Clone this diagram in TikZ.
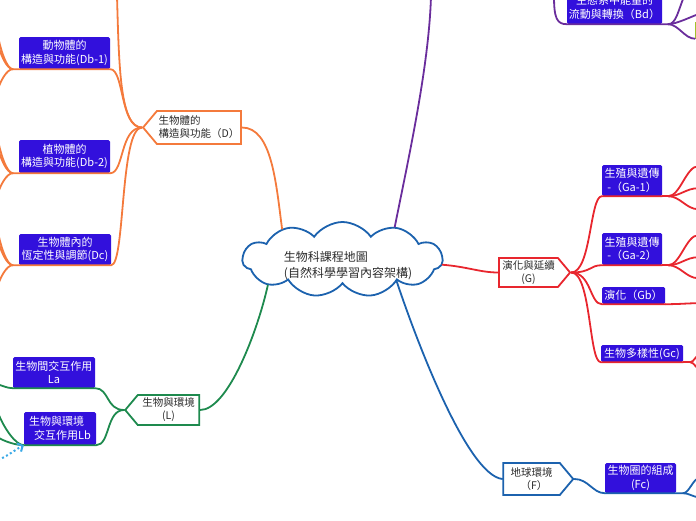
\documentclass[tikz,border=0pt]{standalone}
\usepackage{fontspec}
\setmainfont{Noto Sans CJK TC}
\usetikzlibrary{shapes.symbols,arrows.meta}
\definecolor{bioOrange}{HTML}{F47A3C}
\definecolor{bioGreen}{HTML}{1E8A4E}
\definecolor{bioPurple}{HTML}{6A2D9C}
\definecolor{bioRed}{HTML}{E8262E}
\definecolor{bioBlue}{HTML}{1C62AE}
\definecolor{bioBox}{HTML}{3210DC}
\definecolor{bioSky}{HTML}{3AA9E6}
\definecolor{bioLime}{HTML}{A3C22A}
\definecolor{bioInk}{HTML}{2B2B2B}

\begin{document}
\begin{tikzpicture}[x=1pt,y=-1pt,
  branch/.style={line width=1.8pt,line cap=round},
  leaf/.style={rectangle,rounded corners=1.5pt,fill=bioBox,text=white,inner sep=1pt,
    align=center,font=\fontsize{11}{13.5}\selectfont},
  topic/.style={signal,signal pointer angle=100,line width=1.8pt,fill=white,text=bioInk,
    inner sep=1pt,font=\fontsize{10.5}{13}\selectfont}]
\useasboundingbox (0,0) rectangle (696,520);
\clip (0,0) rectangle (696,520);

% centre
\node[cloud,cloud puffs=11,cloud puff arc=110,aspect=2.6,minimum width=200pt,minimum height=75pt,
  draw=bioBlue,line width=1.8pt,fill=white] (root) at (342.5,259.5) {};
\node[align=left,text=bioInk,font=\fontsize{12}{16}\selectfont] (rootText) at (348,265.5)
  {生物科課程地圖\\(自然科學學習內容架構)};

% topics
\node[topic,draw=bioOrange,signal to=west,minimum width=98pt,minimum height=33pt,align=left]
  (bodyD) at (199,127.5) {生物體的\\構造與功能（D）};
\node[topic,draw=bioGreen,signal to=west,minimum width=74pt,minimum height=30pt,align=center]
  (envL) at (168.5,410) {生物與環境\\(L)};
\node[topic,draw=bioRed,signal to=east,minimum width=71pt,minimum height=29pt,align=center]
  (evoG) at (528.5,272.5) {演化與延續\\(G)};
\node[topic,draw=bioBlue,signal to=east,minimum width=70pt,minimum height=32pt,align=left]
  (earthF) at (531.5,479) {地球環境\\\hspace{10pt}（F）};

% leaves
\node[leaf,minimum width=91pt,minimum height=32pt] (animal) at (64.5,53) {動物體的\\構造與功能(Db-1)};
\node[leaf,minimum width=91pt,minimum height=33pt] (plant) at (64.5,156.5) {植物體的\\構造與功能(Db-2)};
\node[leaf,minimum width=92pt,minimum height=31pt] (homeo) at (65,249.5) {生物體內的\\恆定性與調節(Dc)};
\node[leaf,minimum width=82pt,minimum height=31pt] (inter) at (54,372.5) {生物間交互作用\\La};
\node[leaf,minimum width=72pt,minimum height=33pt,align=left] (interenv) at (60,428.5)
  {生物與環境\\\hspace{5pt}交互作用Lb};
\node[leaf,minimum width=95pt,minimum height=33pt] (energy) at (614.5,7.5) {生態系中能量的\\流動與轉換（Bd）};
\node[leaf,minimum width=60pt,minimum height=31pt] (repA) at (632,180.5) {生殖與遺傳\\-（Ga-1）};
\node[leaf,minimum width=60pt,minimum height=32pt] (repB) at (632,249) {生殖與遺傳\\-（Ga-2）};
\node[leaf,minimum width=63pt,minimum height=17pt] (evol) at (633.5,295.5) {演化（Gb）};
\node[leaf,minimum width=82pt,minimum height=17pt] (divers) at (642,353.5) {生物多樣性(Gc)};
\node[leaf,minimum width=71pt,minimum height=30pt] (bios) at (640.5,478) {生物圈的組成\\(Fc)};
\node[fill=bioLime,minimum width=12pt,minimum height=17pt,inner sep=0pt] (stub) at (701,30) {};

\coordinate (topD) at (117,-4);
\coordinate (topB) at (431,-4);
\coordinate (topE) at (554,-4);
\coordinate (skyTail) at (-2,460);

% orange
\draw[branch,bioOrange] (bodyD.east) .. controls +(30,0) and +(-6,-45) .. (root.153);
\draw[branch,bioOrange] (bodyD.west) .. controls +(-22,0) and +(2,70) .. (topD);
\foreach \leafname in {animal,plant,homeo}{
  \draw[branch,bioOrange] (bodyD.west) .. controls +(-22,0) and +(14,0) .. (\leafname.south east)
    -- ([xshift=-6pt]\leafname.south west);
  \foreach \dy/\cy in {-40/20,-30/15,24/-12}
    \draw[branch,bioOrange] ([xshift=-6pt]\leafname.south west) .. controls +(-6,0) and +(3,\cy) .. +(-16,\dy);
}

% green
\draw[branch,bioGreen] (envL.east) .. controls +(28,0) and +(-10,45) .. (root.199);
\draw[branch,bioGreen] (envL.west) .. controls +(-18,0) and +(14,0) .. (inter.south east)
  -- (inter.south west) .. controls +(-6,0) and +(5,1) .. +(-16,-4);
\draw[branch,bioGreen] (envL.west) .. controls +(-18,0) and +(14,0) .. (interenv.south east)
  -- (interenv.south west);
\foreach \dy/\cy in {-33/16,-8/4}
  \draw[branch,bioGreen] (interenv.south west) .. controls +(-8,0) and +(6,\cy) .. +(-26,\dy);
\draw[bioSky,line width=2pt,dash pattern=on 2pt off 2.5pt,-{Straight Barb[length=4pt,width=9pt]}]
  (skyTail) .. controls +(8,-3) and +(-6,3) .. (interenv.south west);

% purple
\draw[branch,bioPurple] (root.32) .. controls +(14,-70) and +(-2,70) .. (topB);
\draw[branch,bioPurple] (topE) .. controls +(0,22) and +(-10,0) .. (energy.south west)
  -- (energy.south east) -- ([xshift=6pt]energy.south east);
\foreach \dx/\dy/\cy in {16/-28/14,30/-10/2}
  \draw[branch,bioPurple] ([xshift=6pt]energy.south east) .. controls +(8,0) and +(-6,\cy) .. +(\dx,\dy);
\draw[branch,bioPurple] ([xshift=6pt]energy.south east) .. controls +(10,0) and +(-10,0) .. (stub.south west);

% red
\draw[branch,bioRed] (root.357) .. controls +(25,2) and +(-18,0) .. (evoG.west);
\foreach \leafname in {repA,repB,evol,divers}
  \draw[branch,bioRed] (evoG.east) .. controls +(20,0) and +(-12,0) .. (\leafname.south west)
    -- (\leafname.south east);
\foreach \leafname in {repA,repB}{
  \draw[branch,bioRed] (\leafname.south east) -- ([xshift=6pt]\leafname.south east);
  \foreach \dy in {-30,-8,13}
    \draw[branch,bioRed] ([xshift=6pt]\leafname.south east) .. controls +(12,0) and +(-12,0) .. +(30,\dy);
}
\draw[branch,bioRed] (evol.south east) .. controls +(15,0) and +(-10,0) .. +(33,-1);
\draw[branch,bioRed] (divers.south east) -- ([xshift=7pt]divers.south east);
\foreach \dy in {-8,7}
  \draw[branch,bioRed] ([xshift=7pt]divers.south east) .. controls +(4,0) and +(-4,0) .. +(10,\dy);

% blue
\draw[branch,bioBlue] (root.338) .. controls +(20,60) and +(-35,-4) .. (earthF.west);
\draw[branch,bioBlue] (earthF.east) .. controls +(14,0) and +(-12,0) .. (bios.south west)
  -- (bios.south east) -- ([xshift=7pt]bios.south east);
\foreach \dy in {-15,4}
  \draw[branch,bioBlue] ([xshift=7pt]bios.south east) .. controls +(6,0) and +(-6,0) .. +(16,\dy);
\end{tikzpicture}
\end{document}
